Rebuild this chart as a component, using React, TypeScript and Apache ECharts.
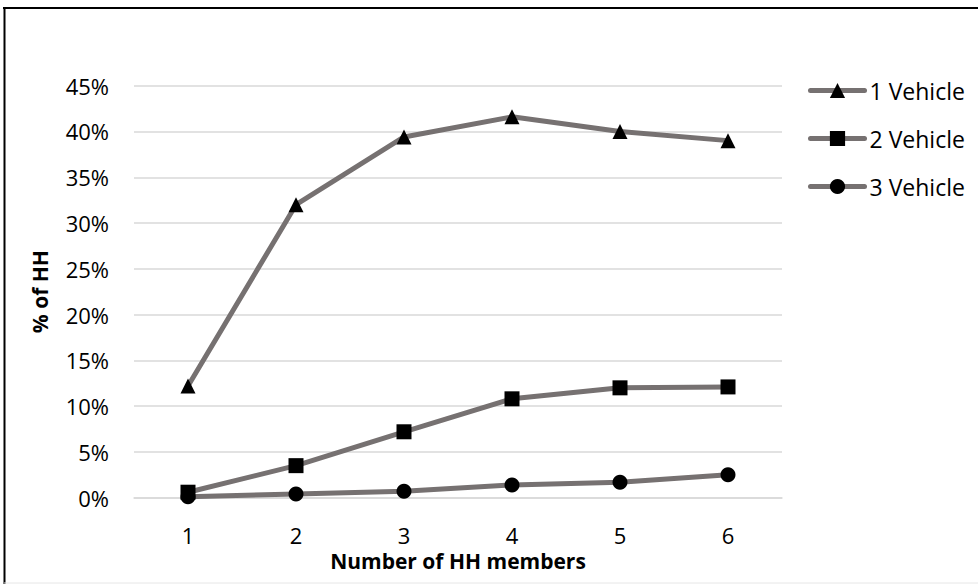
import React, { useEffect, useRef } from "react";
import * as echarts from "echarts";

const members = ["1", "2", "3", "4", "5", "6"];
const oneVehicle = [12.2, 32.0, 39.4, 41.6, 40.0, 39.0];
const twoVehicle = [0.6, 3.5, 7.2, 10.8, 12.0, 12.1];
const threeVehicle = [0.1, 0.4, 0.7, 1.4, 1.7, 2.5];
const seriesNames = ["1 Vehicle", "2 Vehicle", "3 Vehicle"];
const yTicks = { min: 0, max: 45, interval: 5 };

const FONT = "'Open Sans', 'Noto Sans', sans-serif";
const LINE_GREY = "#767171";
const GRID_GREY = "#d9d9d9";

export default function App() {
  const ref = useRef<HTMLDivElement>(null);

  useEffect(() => {
    if (!ref.current) return;
    const chart = echarts.init(ref.current, undefined, { renderer: "svg" });

    const mk = (name: string, data: number[], symbol: string) => ({
      name,
      type: "line",
      data,
      symbol,
      symbolSize: 15,
      showAllSymbol: true,
      lineStyle: { color: LINE_GREY, width: 5 },
      itemStyle: { color: "#000000" },
      z: 3,
    });

    chart.setOption({
      animation: false,
      backgroundColor: "#ffffff",
      textStyle: { fontFamily: FONT },
      grid: { left: 134, right: 196, top: 85.7, bottom: 86.3, containLabel: false },
      legend: {
        orient: "vertical",
        left: 803,
        top: 74,
        itemWidth: 54,
        itemHeight: 19,
        itemGap: 28 - 3,
        data: seriesNames,
        lineStyle: { width: 5, color: LINE_GREY, cap: "round" },
        textStyle: { fontFamily: FONT, fontSize: 23, color: "#000", lineHeight: 19 },
      },
      xAxis: {
        type: "category",
        data: members,
        boundaryGap: true,
        name: "Number of HH members",
        nameLocation: "middle",
        nameGap: 52,
        nameTextStyle: { fontFamily: FONT, fontSize: 21, fontWeight: "bold", color: "#000" },
        axisLine: { show: true, lineStyle: { color: GRID_GREY, width: 1.5 } },
        axisTick: { show: false },
        axisLabel: { fontFamily: FONT, fontSize: 22, color: "#000", margin: 26 },
        splitLine: { show: false },
      },
      yAxis: {
        type: "value",
        min: yTicks.min,
        max: yTicks.max,
        interval: yTicks.interval,
        name: "% of HH",
        nameLocation: "middle",
        nameGap: 84,
        nameTextStyle: { fontFamily: FONT, fontSize: 21, fontWeight: "bold", color: "#000" },
        axisLine: { show: false },
        axisTick: { show: false },
        axisLabel: { fontFamily: FONT, fontSize: 22, color: "#000", margin: 25, formatter: "{value}%" },
        splitLine: { show: true, lineStyle: { color: GRID_GREY, width: 1.5 } },
      },
      series: [
        mk(seriesNames[0], oneVehicle, "triangle"),
        mk(seriesNames[1], twoVehicle, "rect"),
        mk(seriesNames[2], threeVehicle, "circle"),
      ],
      graphic: [
        { type: "line", shape: { x1: 3, y1: 8, x2: 978, y2: 8 }, style: { stroke: "#000", lineWidth: 2 } },
        { type: "line", shape: { x1: 4.5, y1: 8, x2: 4.5, y2: 584 }, style: { stroke: "#000", lineWidth: 2 } },
        { type: "line", shape: { x1: 4, y1: 583, x2: 978, y2: 583 }, style: { stroke: "#e6e6e6", lineWidth: 1 } },
      ],
    });

    return () => chart.dispose();
  }, []);

  return (
    <div
      ref={ref}
      style={{ position: "absolute", left: 0, top: 0, width: 978, height: 584 }}
    />
  );
}
